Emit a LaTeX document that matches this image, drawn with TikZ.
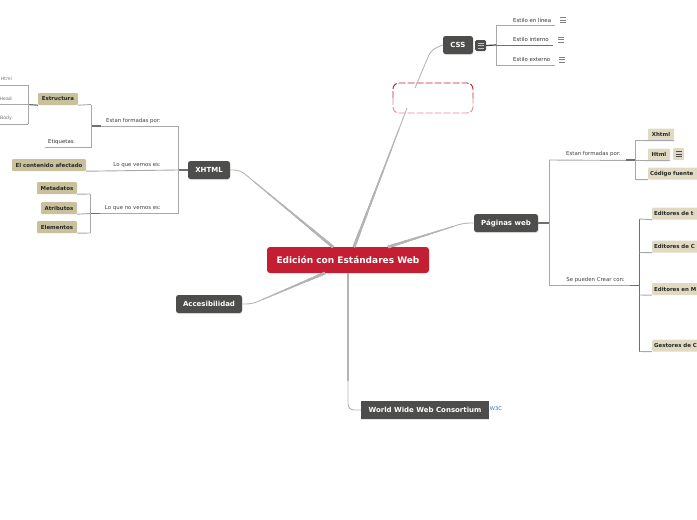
\documentclass[tikz,border=0pt]{standalone}
\usepackage{xcolor}
\usepackage{fontspec}
\setmainfont{DejaVu Sans}
\usetikzlibrary{calc,shapes,positioning,shadows}
\definecolor{rootred}{HTML}{C41E33}
\definecolor{topicgray}{HTML}{4D4D4B}
\definecolor{olivetag}{HTML}{C9C19C}
\definecolor{sandtag}{HTML}{E0DAC3}
\definecolor{linegray}{HTML}{A8A8A8}
\definecolor{stubgray}{HTML}{707070}
\definecolor{mainline}{HTML}{B4B4B4}
\definecolor{dashred}{HTML}{C41E33}
\definecolor{dashpink}{HTML}{E58C97}
\definecolor{logoblue}{HTML}{2A6EBB}
% tapered part of a main connector, thick at the first point
\newcommand{\taperlink}[2]{%
    \foreach \t/\w in {0.85/1.1, 0.7/1.4, 0.55/1.7, 0.4/2.0, 0.25/2.4, 0.12/2.8} {
        \draw[mainline, line width=\w pt] (#1) -- ($(#1)!\t!(#2)$);
    }
}

\begin{document}
\begin{tikzpicture}[x=1pt, y=-1pt,
    rootbox/.style={rectangle, fill=rootred, text=white, rounded corners=3pt, inner sep=0pt, minimum width=162pt, minimum height=26pt, font=\fontsize{9}{10}\selectfont\bfseries},
    topicbox/.style={rectangle, fill=topicgray, text=white, rounded corners=2.5pt, inner sep=0pt, minimum height=18pt, drop shadow={opacity=0.2, shadow xshift=0.4pt, shadow yshift=-1pt}, font=\fontsize{7}{8}\selectfont\bfseries},
    tagbox/.style={rectangle, fill=olivetag, text=black!85, rounded corners=1pt, inner sep=0pt, minimum height=12pt, font=\fontsize{5.45}{6}\selectfont\bfseries},
    sandbox/.style={tagbox, fill=sandtag},
    label/.style={inner sep=0pt, text=black!80, font=\fontsize{5.4}{6}\selectfont},
    edgelabel/.style={label, text=black!75},
    branch/.style={draw=linegray, line width=0.9pt},
    stub/.style={draw=stubgray, line width=1.2pt},
    mainlink/.style={draw=mainline, line width=0.9pt, rounded corners=6pt}
]
    \useasboundingbox (0,0) rectangle (697,520);

    % Root and main topics
    \node[rootbox] (root) at (348,260) {Edición con Estándares Web};
    \node[topicbox, minimum width=42pt] (xhtml) at (209,170) {XHTML};
    \node[topicbox, minimum width=30pt] (css) at (458,45) {CSS};
    \node[topicbox, minimum width=64pt] (paginas) at (506,223) {Páginas web};
    \node[topicbox, minimum width=66pt] (accesibilidad) at (209,304) {Accesibilidad};
    \node[topicbox, minimum width=128pt, rounded corners=0pt] (consortium) at (425,410) {World Wide Web Consortium};
    \node[inner sep=0pt, text=logoblue, font=\fontsize{5.2}{5}\selectfont] (logo) at (496,409) {W3C};

    % Empty dashed topic
    \coordinate (dashnw) at (393,98);
    \coordinate (dashne) at (473,98);
    \draw[dashpink, line width=0.9pt, dash pattern=on 7pt off 2pt, rounded corners=6pt] (dashnw) -- (393,113) -- (473,113) -- (dashne);
    \draw[dashred, line width=0.9pt, dash pattern=on 7pt off 2pt, rounded corners=6pt] (dashnw) -- (393,83) -- (473,83) -- (dashne);

    % CSS children
    \node[rectangle, fill=topicgray, rounded corners=1.5pt, inner sep=0pt, minimum size=11pt] (cssnote) at (480.5,45.5) {};
    \node[label, anchor=west] (enlinea) at (513,20) {Estilo en línea};
    \node[label, anchor=west] (interno) at (513,39.5) {Estilo interno};
    \node[label, anchor=west] (externo) at (513,59.5) {Estilo externo};

    % XHTML children
    \node[edgelabel, anchor=east] (xformadas) at (161,121) {Estan formadas por:};
    \node[edgelabel, anchor=east] (xvemos) at (161,165) {Lo que vemos es:};
    \node[edgelabel, anchor=east] (xnovemos) at (161,208) {Lo que no vemos es:};
    \node[tagbox, minimum width=40pt] (estructura) at (58,99) {Estructura};
    \node[label, anchor=west] (etiquetas) at (48,142) {Etiquetas};
    \node[tagbox, minimum width=74pt] (contenido) at (49,165) {El contenido afectado};
    \node[tagbox, minimum width=40pt] (metadatos) at (57,188) {Metadatos};
    \node[tagbox, minimum width=36pt] (atributos) at (59,208) {Atributos};
    \node[tagbox, minimum width=40pt] (elementos) at (57,227) {Elementos};
    \node[edgelabel, text=black!55, font=\fontsize{4.6}{6}\selectfont, anchor=east] (lhtml) at (12,79) {Html};
    \node[edgelabel, text=black!55, font=\fontsize{4.6}{6}\selectfont, anchor=east] (lhead) at (12,99) {Head};
    \node[edgelabel, text=black!55, font=\fontsize{4.6}{6}\selectfont, anchor=east] (lbody) at (12,118) {Body};

    % Paginas web children
    \node[edgelabel, anchor=east] (pformadas) at (621,154) {Estan formadas por:};
    \node[edgelabel, anchor=east] (pcrear) at (625,280) {Se pueden Crear con:};
    \node[sandbox, minimum width=26pt] (xhtmlp) at (661,134.5) {Xhtml};
    \node[sandbox, minimum width=22pt] (htmlp) at (659,154.5) {Html};
    \node[sandbox, minimum width=11pt] (htmlnote) at (678.5,154) {};
    \node[sandbox, anchor=west, minimum width=60pt, text width=56pt, align=left] (codigo) at (648,173.5) {Código fuente};
    \node[sandbox, anchor=west, minimum width=60pt, text width=56pt, align=left] (edtexto) at (652,213.5) {Editores de t};
    \node[sandbox, anchor=west, minimum width=60pt, text width=56pt, align=left] (edcodigo) at (652,246.5) {Editores de C};
    \node[sandbox, anchor=west, minimum width=60pt, text width=56pt, align=left] (edmodo) at (652,289) {Editores en M};
    \node[sandbox, anchor=west, minimum width=60pt, text width=56pt, align=left] (gestores) at (652,345.5) {Gestores de C};

    % Junctions
    \coordinate (xjoin) at (178,170);
    \coordinate (xtop) at (178,126);
    \coordinate (xbot) at (178,213.5);
    \coordinate (ejoin) at (91,126);
    \coordinate (nojoin) at (90,213.5);
    \coordinate (sjoin) at (28,104.5);
    \coordinate (cssjoin) at (496,45);
    \coordinate (pjoin) at (549,223);
    \coordinate (ptop) at (549,160);
    \coordinate (pbot) at (549,285.5);
    \coordinate (fjoin) at (635,160);
    \coordinate (cjoin) at (639.5,285.5);

    % Main connectors
    \coordinate (rootx) at (333,247);
    \coordinate (xelbow) at (240,170);
    \coordinate (rootc) at (354,247);
    \coordinate (cssgap) at (407,108);
    \coordinate (rootp) at (388,247);
    \coordinate (pelbow) at (464,223);
    \coordinate (roota) at (325,273);
    \coordinate (aelbow) at (252,304);
    \coordinate (rootw) at (348,273);
    \coordinate (welbow) at (348,400);
    \draw[mainlink] (xhtml.east) -- (xelbow) -- (rootx);
    \taperlink{rootx}{xelbow}
    \draw[mainlink] (415,88) -- (431,50) -- (css.west);
    \draw[mainlink] (rootc) -- (cssgap);
    \taperlink{rootc}{cssgap}
    \draw[mainlink] (paginas.west) -- (pelbow) -- (rootp);
    \taperlink{rootp}{pelbow}
    \draw[mainlink] (accesibilidad.east) -- (aelbow) -- (roota);
    \taperlink{roota}{aelbow}
    \draw[mainlink] (rootw) -- (348,410) -- (consortium.west);
    \taperlink{rootw}{welbow}

    % XHTML branches
    \draw[stub] (xhtml.west) -- (xjoin);
    \draw[branch] (xtop) -- (xbot);
    \draw[branch] (xtop) -- (ejoin);
    \draw[stub] (ejoin) -- ++(10,0);
    \draw[branch] (contenido.south east) -- (xjoin);
    \draw[branch] (xbot) -- (nojoin);
    \draw[stub] (nojoin) -- ++(10,0);
    \draw[branch] (nojoin) -- (atributos.south east);
    \draw[branch] (91,104.5) -- (91,147.5);
    \draw[branch] (91,104.5) -- (estructura.south east);
    \draw[branch] (91,147.5) -- (45,147.5);
    \draw[branch] (90,194) -- (90,233);
    \draw[branch] (90,194) -- (metadatos.south east);
    \draw[branch] (90,233) -- (elementos.south east);
    \draw[stub] (estructura.south west) -- (sjoin);
    \draw[branch] (28,85) -- (28,124);
    \draw[branch] (28,85) -- (0,85);
    \draw[branch] (sjoin) -- (0,104.5);
    \draw[branch] (28,124) -- (0,124);

    % CSS branches
    \draw[stub, draw=black!75] (cssnote.east) -- (cssjoin);
    \draw[branch] (496,25.5) -- (496,65);
    \draw[branch] (496,25.5) -- (555,25.5);
    \draw[branch, draw=stubgray] (cssjoin) -- (553,45);
    \draw[branch] (496,65) -- (555,65);

    % Paginas web branches
    \draw[stub] (paginas.east) -- (pjoin);
    \draw[branch] (ptop) -- (pbot);
    \draw[branch] (ptop) -- (htmlp.south east);
    \draw[stub] (626,160) -- (fjoin);
    \draw[branch] (635,140.5) -- (635,179.5);
    \draw[branch] (635,140.5) -- (xhtmlp.south east);
    \draw[branch] (635,179.5) -- (codigo.south west);
    \draw[branch] (pbot) -- (cjoin);
    \draw[stub] (630,285.5) -- (cjoin);
    \draw[branch, draw=stubgray] (639.5,219) -- (639.5,351.5);
    \draw[branch] (639.5,219) -- (edtexto.south west);
    \draw[branch] (639.5,252.5) -- (edcodigo.south west);
    \draw[branch] (639.5,295) -- (edmodo.south west);
    \draw[branch] (639.5,351.5) -- (gestores.south west);

    % Note icons
    \foreach \nx/\ny in {563/20, 561/39.5, 562/59.5} {
        \draw[gray, line width=1pt] (\nx-3,\ny-2.5) -- (\nx+3,\ny-2.5);
        \draw[gray, line width=1pt] (\nx-3,\ny) -- (\nx+3,\ny);
        \draw[gray, line width=1pt] (\nx-3,\ny+2.5) -- (\nx+3,\ny+2.5);
    }
    \foreach \ny in {-2.5,0,2.5} {
        \draw[black!70, line width=0.6pt] ($(htmlnote)+(-3,\ny)$) -- ($(htmlnote)+(3,\ny)$);
        \draw[white!75!black, line width=0.8pt] ($(cssnote)+(-3,\ny)$) -- ($(cssnote)+(3,\ny)$);
    }
\end{tikzpicture}
\end{document}
